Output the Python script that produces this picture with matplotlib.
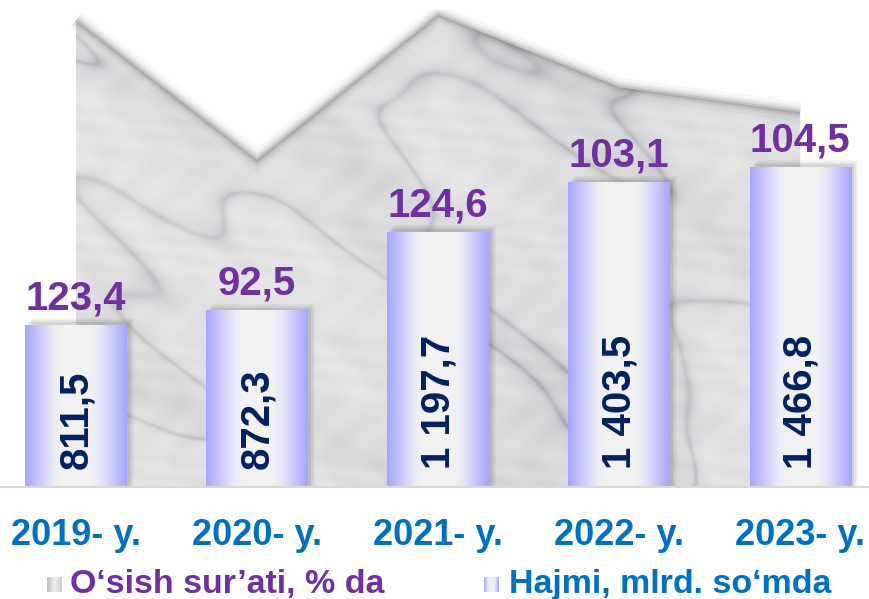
import numpy as np
import matplotlib
matplotlib.use('Agg')
import matplotlib.pyplot as plt
from matplotlib.colors import LinearSegmentedColormap
from matplotlib.patches import Polygon, Rectangle

plt.rcParams['font.family'] = ['Liberation Sans', 'DejaVu Sans']
plt.rcParams['font.weight'] = 'bold'

# data
years = ['2019- y.', '2020- y.', '2021- y.', '2022- y.', '2023- y.']
volume = [811.5, 872.3, 1197.7, 1403.5, 1466.8]          # Hajmi, mlrd. so'mda
volume_labels = ['811,5', '872,3', '1 197,7', '1 403,5', '1 466,8']
growth_labels = ['123,4', '92,5', '124,6', '103,1', '104,5']  # O'sish sur'ati, % da
# heights of the marble area as drawn in the source picture
growth_area = [123.4, 92.5, 124.6, 108.6, 103.1]

PURPLE = '#7030A0'
BLUE = '#0070C0'
NAVY = '#002060'

fig = plt.figure(figsize=(8.69, 5.99), dpi=100)
ax1 = fig.add_axes([0, 0.187, 1, 0.796])
ax2 = ax1.twinx()

x = np.arange(len(years))
xlim = (-0.42, 4.38)
area_ylim = (20.3, 125.6)
bar_ylim = (140, 2120)

# ========== marble area (growth rate) ==========
ax1.set_xlim(*xlim)
ax1.set_ylim(*area_ylim)
verts = [(x[0], area_ylim[0])] + list(zip(x, growth_area)) + [(x[-1], area_ylim[0])]
poly = Polygon(verts, facecolor='none', edgecolor='none')
ax1.add_patch(poly)

# deterministic marble-like texture (decoration only)
yy, xx = np.mgrid[0:1:360j, 0:1:480j]
waves = [(7, 3, 0.3), (4, 9, 1.1), (13, 6, 2.0), (9, 14, 0.7), (21, 11, 1.7),
         (17, 23, 2.6), (29, 19, 0.2), (35, 31, 1.4)]
base = np.zeros_like(xx)
for k, (a, b, p) in enumerate(waves):
    base += np.sin(a * xx + b * yy + p + 1.3 * np.sin((b - a) * yy)) / (1 + 0.4 * k)
base = (base - base.min()) / (base.max() - base.min())
veins = np.exp(-np.abs(np.sin(6 * base + 4 * xx - 3 * yy)) / 0.12)
fine = 0.5 + 0.5 * np.sin(60 * xx + 47 * yy + 3 * np.sin(25 * yy)) * np.sin(53 * yy - 31 * xx)
tex = 0.55 + 0.3 * base - 0.35 * veins + 0.12 * fine
marble = LinearSegmentedColormap.from_list('marble', ['#9c9ca2', '#c4c4c8', '#dadadc', '#ebebec'])
im = ax1.imshow(tex, cmap=marble, extent=[x[0], x[-1], area_ylim[0], area_ylim[1]],
                aspect='auto', origin='lower', zorder=1, interpolation='bicubic')
im.set_clip_path(poly)

# soft shadow along the top edge
for lw, a in [(14, 0.04), (9, 0.06), (6, 0.09), (3, 0.15)]:
    ax1.plot(x, growth_area, color='#404040', lw=lw, alpha=a, zorder=2,
             solid_capstyle='butt', solid_joinstyle='miter')
ax1.axis('off')

# ========== bars (volume) ==========
ax2.set_xlim(*xlim)
ax2.set_ylim(*bar_ylim)
bar_w = 0.56
bar_cmap = LinearSegmentedColormap.from_list(
    'bar', [(0, '#a6a6ff'), (0.28, '#ececf6'), (0.36, '#f2f2f2'),
            (0.66, '#f2f2f2'), (0.76, '#e4e4f8'), (1, '#a6a6ff')])
grad = np.linspace(0, 1, 256).reshape(1, -1)
px_x = (xlim[1] - xlim[0]) / 869
px_y = (bar_ylim[1] - bar_ylim[0]) / 477
for i, v in enumerate(volume):
    x0 = x[i] - bar_w / 2
    # shadow
    for k, a in [(7, 0.05), (5, 0.07), (3, 0.10)]:
        ax2.add_patch(Rectangle((x0 + k * px_x, bar_ylim[0]), bar_w,
                                v - bar_ylim[0] + k * px_y,
                                facecolor='#303030', edgecolor='none', alpha=a, zorder=3))
    ax2.imshow(grad, cmap=bar_cmap, extent=[x0, x0 + bar_w, bar_ylim[0], v],
               aspect='auto', zorder=4, interpolation='bilinear')
    ax2.annotate(volume_labels[i], (x[i], bar_ylim[0]), xytext=(0, 13),
                 textcoords='offset points', rotation=90, ha='center', va='bottom',
                 fontsize=29, fontweight='bold', color=NAVY, zorder=6)
    ax2.annotate(growth_labels[i], (x[i], v), xytext=(0, 11.5),
                 textcoords='offset points', ha='center', va='baseline',
                 fontsize=29, fontweight='bold', color=PURPLE, zorder=6)
ax2.set_xlim(*xlim)
ax2.set_ylim(*bar_ylim)
ax2.axis('off')

# baseline
ax2.axhline(bar_ylim[0], color='#d9d9d9', lw=1.5, zorder=5, clip_on=False)

# category labels
for i, lab in enumerate(years):
    ax2.text(x[i], -0.1216, lab, transform=ax2.get_xaxis_transform(),
             ha='center', va='baseline', fontsize=26, fontweight='bold', color=BLUE)

# ========== legend ==========
H = 599.0
W = 869.0
ax_m1 = fig.add_axes([47 / W, (H - 592) / H, 15 / W, 15 / H])
ax_m1.imshow(grad, cmap=LinearSegmentedColormap.from_list('g', ['#bdbdbd', '#f0f0f0', '#cfcfcf']),
             aspect='auto')
ax_m1.axis('off')
ax_m2 = fig.add_axes([484 / W, (H - 592) / H, 15 / W, 15 / H])
ax_m2.imshow(grad, cmap=bar_cmap, aspect='auto')
ax_m2.axis('off')

fig.text(70 / W, (H - 593) / H, 'O\u2018sish sur\u2019ati, % da', ha='left', va='baseline',
         fontsize=24.5, fontweight='bold', color=PURPLE)
fig.text(509 / W, (H - 593) / H, 'Hajmi, mlrd. so\u2018mda', ha='left', va='baseline',
         fontsize=24.5, fontweight='bold', color=BLUE)

fig.savefig('out.png', dpi=100)
